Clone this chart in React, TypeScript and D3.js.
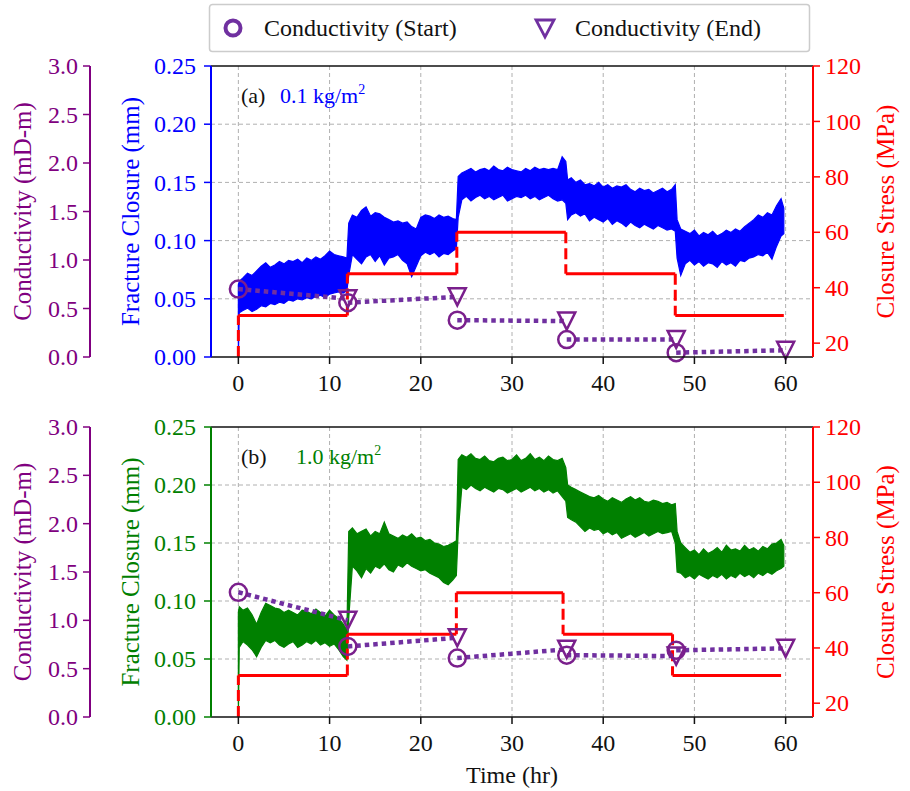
import React from 'react';
import * as d3 from 'd3';

const W = 910;
const H = 791;
const FONT = '"Liberation Serif", "Times New Roman", serif';

// ---- axis ticks ----
const xTicks = [0, 10, 20, 30, 40, 50, 60];
const closureTicks = [0, 0.05, 0.1, 0.15, 0.2, 0.25];
const condTicks = [0, 0.5, 1, 1.5, 2, 2.5, 3];
const stressTicks = [20, 40, 60, 80, 100, 120];

// ---- conductivity (mD-m) ----
const startTimes = [0, 12, 24, 36, 48];
const endTimes = [12, 24, 36, 48, 60];
const condStartA = [0.7, 0.56, 0.38, 0.18, 0.045];
const condEndA = [0.6, 0.62, 0.37, 0.18, 0.07];
const condStartB = [1.29, 0.73, 0.61, 0.64, 0.69];
const condEndB = [1.0, 0.82, 0.7, 0.63, 0.71];

// ---- closure stress (MPa) ----
const stressLevels = [30, 45, 60, 45, 30];
const stressStepsA = [0, 11.95, 23.95, 35.9, 47.9, 59.8];
const stressStepsB = [0, 11.95, 23.9, 35.6, 47.6, 59.5];

// ---- fracture closure (mm): envelope of the recorded signal ----
const closureTime = [
  0, 0.1, 0.5, 1, 1.5, 2, 2.5, 3, 3.5, 4, 4.5, 5, 5.5, 6, 6.5, 7, 7.5, 8, 8.5, 9, 9.5, 10, 10.5, 11, 11.5, 11.9,
  12.1, 12.5, 13, 13.5, 14, 14.5, 15, 15.5, 16, 16.5, 17, 17.5, 18, 18.5, 19, 19.5, 20, 20.5, 21, 21.5, 22, 22.5, 23, 23.5, 23.9,
  24.1, 24.5, 25, 25.5, 26, 26.5, 27, 27.5, 28, 28.5, 29, 29.5, 30, 30.5, 31, 31.5, 32, 32.5, 33, 33.5, 34, 34.5, 35, 35.5, 35.9,
  36.1, 36.5, 37, 37.5, 38, 38.5, 39, 39.5, 40, 40.5, 41, 41.5, 42, 42.5, 43, 43.5, 44, 44.5, 45, 45.5, 46, 46.5, 47, 47.5, 47.9,
  48.1, 48.5, 49, 49.5, 50, 50.5, 51, 51.5, 52, 52.5, 53, 53.5, 54, 54.5, 55, 55.5, 56, 56.5, 57, 57.5, 58, 58.5, 59, 59.5, 59.8,
];
const closureLowA = [
  0, 0.038, 0.04, 0.042, 0.039, 0.041, 0.044, 0.043, 0.046, 0.045, 0.047, 0.046, 0.049, 0.048, 0.05, 0.049, 0.051, 0.05, 0.052, 0.053, 0.051, 0.054, 0.055, 0.056, 0.055, 0.057,
  0.07, 0.088, 0.084, 0.08, 0.086, 0.088, 0.082, 0.087, 0.079, 0.085, 0.086, 0.088, 0.083, 0.08, 0.069, 0.078, 0.087, 0.09, 0.088, 0.09, 0.086, 0.089, 0.088, 0.091, 0.093,
  0.12, 0.135, 0.138, 0.134, 0.137, 0.139, 0.136, 0.138, 0.135, 0.137, 0.139, 0.134, 0.136, 0.138, 0.137, 0.139, 0.136, 0.138, 0.135, 0.137, 0.139, 0.136, 0.134, 0.135, 0.132,
  0.118, 0.122, 0.124, 0.121, 0.123, 0.117, 0.12, 0.118, 0.116, 0.119, 0.114, 0.117, 0.115, 0.112, 0.116, 0.113, 0.111, 0.114, 0.112, 0.11, 0.113, 0.111, 0.109, 0.11, 0.108,
  0.085, 0.07, 0.08, 0.083, 0.079, 0.082, 0.078, 0.081, 0.08, 0.077, 0.082, 0.079, 0.081, 0.078, 0.083, 0.082, 0.085, 0.086, 0.088, 0.087, 0.09, 0.084, 0.095, 0.104, 0.106,
];
const closureHighA = [
  0.062, 0.065, 0.068, 0.072, 0.07, 0.074, 0.078, 0.081, 0.077, 0.079, 0.082, 0.08, 0.083, 0.082, 0.084, 0.081, 0.085, 0.083, 0.086, 0.084, 0.087, 0.091, 0.088, 0.087, 0.086, 0.085,
  0.115, 0.122, 0.12, 0.126, 0.129, 0.121, 0.124, 0.123, 0.12, 0.118, 0.116, 0.117, 0.115, 0.116, 0.112, 0.11, 0.12, 0.122, 0.121, 0.119, 0.122, 0.12, 0.121, 0.119, 0.118,
  0.155, 0.158, 0.16, 0.162, 0.159, 0.161, 0.162, 0.16, 0.164, 0.161, 0.16, 0.163, 0.161, 0.16, 0.159, 0.162, 0.16, 0.163, 0.161, 0.162, 0.161, 0.162, 0.161, 0.172, 0.168,
  0.152, 0.154, 0.15, 0.152, 0.148, 0.149, 0.147, 0.15, 0.146, 0.148, 0.145, 0.147, 0.146, 0.148, 0.144, 0.142, 0.145, 0.143, 0.144, 0.141, 0.143, 0.145, 0.142, 0.144, 0.148,
  0.118, 0.11, 0.108, 0.106, 0.109, 0.104, 0.107, 0.105, 0.108, 0.104, 0.106, 0.109, 0.107, 0.11, 0.108, 0.112, 0.115, 0.118, 0.122, 0.12, 0.124, 0.122, 0.13, 0.136, 0.128,
];
const closureLowB = [
  0, 0.06, 0.065, 0.062, 0.058, 0.052, 0.06, 0.066, 0.064, 0.066, 0.062, 0.06, 0.063, 0.065, 0.06, 0.062, 0.065, 0.063, 0.066, 0.062, 0.064, 0.061, 0.063, 0.058, 0.052, 0.049,
  0.085, 0.13, 0.126, 0.12, 0.128, 0.124, 0.13, 0.128, 0.132, 0.127, 0.125, 0.131, 0.129, 0.133, 0.13, 0.128, 0.126, 0.127, 0.124, 0.122, 0.12, 0.116, 0.114, 0.118, 0.122,
  0.16, 0.198, 0.196, 0.2, 0.197, 0.195, 0.198, 0.196, 0.194, 0.197, 0.196, 0.193, 0.195, 0.197, 0.194, 0.196, 0.198, 0.195, 0.197, 0.194, 0.196, 0.193, 0.195, 0.19, 0.186,
  0.172, 0.17, 0.168, 0.164, 0.16, 0.163, 0.161, 0.162, 0.158, 0.16, 0.157, 0.159, 0.154, 0.156, 0.158, 0.155, 0.157, 0.159, 0.156, 0.158, 0.16, 0.158, 0.159, 0.16, 0.15,
  0.125, 0.124, 0.12, 0.122, 0.119, 0.123, 0.121, 0.119, 0.122, 0.12, 0.123, 0.119, 0.122, 0.12, 0.124, 0.121, 0.123, 0.12, 0.124, 0.122, 0.125, 0.123, 0.126, 0.128, 0.13,
];
const closureHighB = [
  0.09, 0.095, 0.092, 0.094, 0.088, 0.08, 0.09, 0.098, 0.096, 0.094, 0.093, 0.09, 0.092, 0.09, 0.088, 0.092, 0.091, 0.089, 0.093, 0.09, 0.087, 0.092, 0.088, 0.085, 0.08, 0.075,
  0.16, 0.163, 0.158, 0.16, 0.162, 0.156, 0.16, 0.158, 0.168, 0.158, 0.156, 0.154, 0.157, 0.155, 0.158, 0.154, 0.155, 0.152, 0.153, 0.15, 0.149, 0.147, 0.148, 0.15, 0.152,
  0.222, 0.226, 0.224, 0.227, 0.223, 0.222, 0.225, 0.221, 0.22, 0.223, 0.224, 0.221, 0.222, 0.226, 0.221, 0.223, 0.227, 0.222, 0.224, 0.221, 0.225, 0.222, 0.221, 0.223, 0.215,
  0.2, 0.198, 0.196, 0.194, 0.192, 0.19, 0.189, 0.191, 0.188, 0.186, 0.189, 0.187, 0.185, 0.188, 0.19, 0.187, 0.189, 0.186, 0.185, 0.187, 0.186, 0.184, 0.185, 0.183, 0.184,
  0.16, 0.15, 0.146, 0.142, 0.144, 0.14, 0.145, 0.141, 0.143, 0.146, 0.142, 0.148, 0.144, 0.145, 0.143, 0.148, 0.144, 0.146, 0.143, 0.147, 0.145, 0.149, 0.15, 0.153, 0.148,
];

const PURPLE_AXIS = '#800080';
const PURPLE_LINE = '#7030A0';
const MARKER = '#7a1f8c';

const X0 = 211;
const X1 = 813;

type PanelProps = {
  top: number;
  bottom: number;
  color: string;
  low: number[];
  high: number[];
  condStart: number[];
  condEnd: number[];
  steps: number[];
  tag: string;
  loading: string;
  loadingX: number;
};

function Panel(p: PanelProps) {
  const { top, bottom, color } = p;
  const x = d3.scaleLinear().domain([-3, 63]).range([X0, X1]);
  const yC = d3.scaleLinear().domain([0, 0.25]).range([bottom, top]);
  const yK = d3.scaleLinear().domain([0, 3]).range([bottom, top]);
  const yS = d3.scaleLinear().domain([15, 120]).range([bottom, top]);
  const idx = closureTime.map((_, i) => i);
  const area = d3
    .area<number>()
    .x((i) => x(closureTime[i]))
    .y0((i) => yC(p.low[i]))
    .y1((i) => yC(p.high[i]));
  const areaD = area(idx) || '';
  const mid = (top + bottom) / 2;
  const clipId = 'clip' + top;

  const horiz = stressLevels.map((lv, i) => ({ x1: x(p.steps[i]), x2: x(p.steps[i + 1]), y: yS(lv) }));
  const vert = stressLevels.map((lv, i) => ({
    x: x(p.steps[i]),
    y1: yS(i === 0 ? 15 : stressLevels[i - 1]),
    y2: yS(lv),
  }));

  const tri = (cx: number, cy: number, s: number) =>
    `M${cx - s},${cy - s}L${cx + s},${cy - s}L${cx},${cy + s}Z`;

  return (
    <g>
      <defs>
        <clipPath id={clipId}>
          <rect x={X0} y={top} width={X1 - X0} height={bottom - top} />
        </clipPath>
      </defs>
      {/* grid */}
      {xTicks.map((t) => (
        <line key={'gx' + t} x1={x(t)} x2={x(t)} y1={top} y2={bottom} stroke="#b0b0b0" strokeWidth={1} strokeDasharray="4,3" />
      ))}
      {closureTicks.slice(1, -1).map((t) => (
        <line key={'gy' + t} x1={X0} x2={X1} y1={yC(t)} y2={yC(t)} stroke="#b0b0b0" strokeWidth={1} strokeDasharray="4,3" />
      ))}
      <g clipPath={`url(#${clipId})`}>
        {/* closure signal */}
        <path d={areaD} fill={color} stroke={color} strokeWidth={1.2} strokeLinejoin="miter" />
        {/* closure stress */}
        {horiz.map((h, i) => (
          <line key={'h' + i} x1={h.x1} x2={h.x2} y1={h.y} y2={h.y} stroke="red" strokeWidth={3} />
        ))}
        {vert.map((v, i) => (
          <line key={'v' + i} x1={v.x} x2={v.x} y1={v.y1} y2={v.y2} stroke="red" strokeWidth={3} strokeDasharray="11,5" />
        ))}
      </g>
      {/* conductivity */}
      {p.condStart.map((c, i) => (
        <line
          key={'d' + i}
          x1={x(startTimes[i])}
          y1={yK(c)}
          x2={x(endTimes[i])}
          y2={yK(p.condEnd[i])}
          stroke={PURPLE_LINE}
          strokeWidth={4.5}
          strokeDasharray="4.5,4"
        />
      ))}
      {p.condStart.map((c, i) => (
        <circle key={'c' + i} cx={x(startTimes[i])} cy={yK(c)} r={8.5} fill="none" stroke={MARKER} strokeWidth={2.5} />
      ))}
      {p.condEnd.map((c, i) => (
        <path key={'t' + i} d={tri(x(endTimes[i]), yK(c), 8.5)} fill="none" stroke={MARKER} strokeWidth={2.5} strokeLinejoin="miter" />
      ))}

      {/* frame */}
      <line x1={X0} x2={X1} y1={top} y2={top} stroke="#111" strokeWidth={1.6} />
      <line x1={X0} x2={X1} y1={bottom} y2={bottom} stroke="#111" strokeWidth={1.6} />
      <line x1={X0} x2={X0} y1={top} y2={bottom} stroke={color} strokeWidth={2} />
      <line x1={X1} x2={X1} y1={top} y2={bottom} stroke="red" strokeWidth={2} />

      {/* x axis */}
      {xTicks.map((t) => (
        <g key={'xt' + t}>
          <line x1={x(t)} x2={x(t)} y1={bottom} y2={bottom + 7} stroke="#111" strokeWidth={1.5} />
          <text x={x(t)} y={bottom + 34} textAnchor="middle" fontSize={24} fill="#111">
            {t}
          </text>
        </g>
      ))}

      {/* closure axis (left) */}
      {closureTicks.map((t) => (
        <g key={'ct' + t}>
          <line x1={X0 - 7} x2={X0} y1={yC(t)} y2={yC(t)} stroke={color} strokeWidth={1.5} />
          <text x={X0 - 15} y={yC(t)} dy="0.34em" textAnchor="end" fontSize={24} fill={color}>
            {t.toFixed(2)}
          </text>
        </g>
      ))}
      <text transform={`translate(130,${mid}) rotate(-90)`} textAnchor="middle" dominantBaseline="central" fontSize={25} fill={color}>
        Fracture Closure (mm)
      </text>

      {/* conductivity axis (far left) */}
      <line x1={90} x2={90} y1={top} y2={bottom} stroke={PURPLE_AXIS} strokeWidth={2} />
      {condTicks.map((t) => (
        <g key={'kt' + t}>
          <line x1={83} x2={90} y1={yK(t)} y2={yK(t)} stroke={PURPLE_AXIS} strokeWidth={1.5} />
          <text x={78} y={yK(t)} dy="0.34em" textAnchor="end" fontSize={24} fill={PURPLE_AXIS}>
            {t.toFixed(1)}
          </text>
        </g>
      ))}
      <text transform={`translate(22,${mid}) rotate(-90)`} textAnchor="middle" dominantBaseline="central" fontSize={25} fill={PURPLE_AXIS}>
        Conductivity (mD-m)
      </text>

      {/* stress axis (right) */}
      {stressTicks.map((t) => (
        <g key={'st' + t}>
          <line x1={X1} x2={X1 + 7} y1={yS(t)} y2={yS(t)} stroke="red" strokeWidth={1.5} />
          <text x={X1 + 12} y={yS(t)} dy="0.34em" textAnchor="start" fontSize={24} fill="red">
            {t}
          </text>
        </g>
      ))}
      <text transform={`translate(885,${mid}) rotate(-90)`} textAnchor="middle" dominantBaseline="central" fontSize={25} fill="red">
        Closure Stress (MPa)
      </text>

      {/* panel annotation */}
      <text x={241} y={top + 37} fontSize={22} fill="#111">
        {p.tag}
      </text>
      <text x={p.loadingX} y={top + 37} fontSize={22} fill={color}>
        {p.loading}
        <tspan dy={-9} fontSize={14}>
          2
        </tspan>
      </text>
    </g>
  );
}

export default function App() {
  return (
    <svg
      width={W}
      height={H}
      viewBox={`0 0 ${W} ${H}`}
      style={{ position: 'absolute', left: 0, top: 0, background: '#fff', fontFamily: FONT }}
    >
      <rect x={0} y={0} width={W} height={H} fill="#fff" />
      {/* legend */}
      <rect x={209.5} y={4.5} width={600} height={47} rx={3} fill="#fff" stroke="#cccccc" strokeWidth={1.5} />
      <circle cx={233} cy={28} r={7.5} fill="none" stroke={PURPLE_LINE} strokeWidth={4} />
      <text x={264} y={36} fontSize={24} fill="#111">
        Conductivity (Start)
      </text>
      <path d="M536,20L554,20L545,37Z" fill="none" stroke={PURPLE_LINE} strokeWidth={2.8} strokeLinejoin="miter" />
      <text x={575} y={36} fontSize={24} fill="#111">
        Conductivity (End)
      </text>

      <Panel
        top={66}
        bottom={357}
        color="blue"
        low={closureLowA}
        high={closureHighA}
        condStart={condStartA}
        condEnd={condEndA}
        steps={stressStepsA}
        tag="(a)"
        loading="0.1 kg/m"
        loadingX={280}
      />
      <Panel
        top={427}
        bottom={717}
        color="green"
        low={closureLowB}
        high={closureHighB}
        condStart={condStartB}
        condEnd={condEndB}
        steps={stressStepsB}
        tag="(b)"
        loading="1.0 kg/m"
        loadingX={296}
      />
      <text x={512} y={783} textAnchor="middle" fontSize={24} fill="#111">
        Time (hr)
      </text>
    </svg>
  );
}
